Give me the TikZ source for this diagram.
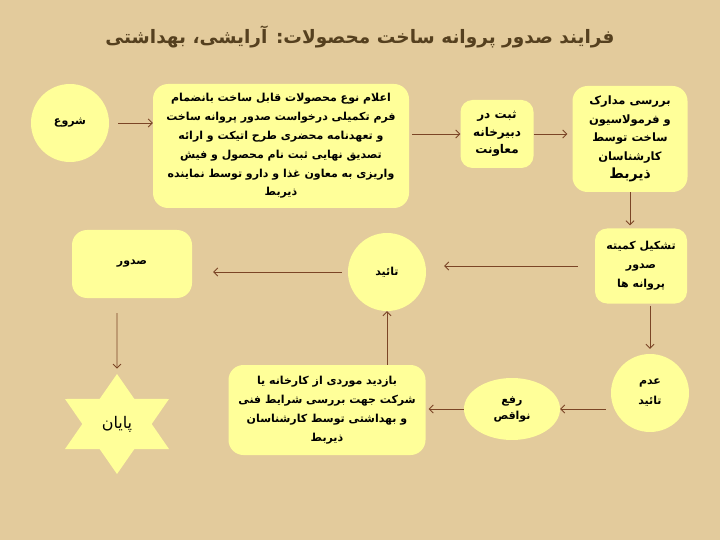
\documentclass[tikz,border=0pt]{standalone}
\usepackage{fontspec}
\usetikzlibrary{shapes.geometric,arrows.meta}
\newfontfamily\fafont[Script=Arabic]{DejaVu Sans}
\TeXXeTstate=1
\newcommand\rl[1]{\beginR#1\endR}
\definecolor{papyrus}{HTML}{E3CB9C}
\definecolor{boxfill}{HTML}{FFFF99}
\definecolor{titlebrown}{HTML}{55401F}
\definecolor{arrowbrown}{HTML}{7B4526}

\begin{document}
\begin{tikzpicture}[x=1pt, y=-1pt,
    box/.style={fill=boxfill, rounded corners=15pt, align=center, inner sep=2pt,
        font=\fafont\bfseries\fontsize{11}{18.8}\selectfont},
    disc/.style={circle, fill=boxfill, align=center, inner sep=0pt, minimum size=78pt,
        font=\fafont\bfseries\fontsize{11}{18}\selectfont},
    flow/.style={draw=arrowbrown, line width=0.8pt,
        every edge/.append style={-{Straight Barb[length=4pt,width=8pt]}}}]
                \fill[papyrus] (0,0) rectangle (720,540);
                \useasboundingbox (0,0) rectangle (720,540);
                \node[font=\fafont\bfseries\fontsize{18.5}{22}\selectfont, text=titlebrown] (title) at (360,37)
                    {\rl{فرایند صدور پروانه ساخت محصولات: آرایشی، بهداشتی}};
                \node[disc] (start) at (70,123) {\rl{شروع}};
                \node[box, minimum width=256, minimum height=124] (form) at (281,146)
                    {\rl{اعلام نوع محصولات قابل ساخت بانضمام}\\
                     \rl{فرم تکمیلی درخواست صدور پروانه ساخت}\\
                     \rl{و تعهدنامه محضری طرح اتیکت و ارائه}\\
                     \rl{تصدیق نهایی ثبت نام محصول و فیش}\\
                     \rl{واریزی به معاون غذا و دارو توسط نماینده}\\
                     \rl{ذیربط}};
                \node[box, rounded corners=12pt, minimum width=73, minimum height=68,
                    font=\fafont\bfseries\fontsize{12}{17.5}\selectfont] (office) at (497,134)
                    {\rl{ثبت در}\\ \rl{دبیرخانه}\\ \rl{معاونت}};
                \node[box, minimum width=115, minimum height=106,
                    font=\fafont\bfseries\fontsize{11.5}{18.5}\selectfont] (review) at (630,139)
                    {\rl{بررسی مدارک}\\ \rl{و فرمولاسیون}\\ \rl{ساخت توسط}\\ \rl{کارشناسان}\\
                     {\fontsize{14}{21}\selectfont\rl{ذیربط}}};
                \node[box, rounded corners=12pt, minimum width=92, minimum height=75,
                    font=\fafont\bfseries\fontsize{11}{19}\selectfont] (committee) at (641,266)
                    {\rl{تشکیل کمیته}\\ \rl{صدور}\\ \rl{پروانه ها}};
                \node[disc, font=\fafont\bfseries\fontsize{11}{20}\selectfont] (reject) at (650,393)
                    {\rl{عدم}\\ \rl{تائید}};
                \node[disc, ellipse, minimum width=96, minimum height=62,
                    font=\fafont\bfseries\fontsize{11}{16}\selectfont] (fix) at (512,409)
                    {\rl{رفع}\\ \rl{نواقص}};
                \node[box, minimum width=197, minimum height=90,
                    font=\fafont\bfseries\fontsize{11}{19}\selectfont] (visit) at (327,410)
                    {\rl{بازدید موردی از کارخانه یا}\\
                     \rl{شرکت جهت بررسی شرایط فنی}\\
                     \rl{و بهداشتی توسط کارشناسان}\\
                     \rl{ذیربط}};
                \node[disc] (approve) at (387,272) {\rl{تائید}};
                \node[box, minimum width=120, minimum height=68] (issue) at (132,264) {\rl{صدور}};
                \node[star, star points=6, star point ratio=1.73, fill=boxfill, inner sep=0pt,
                    minimum size=100, xscale=1.2, transform shape,
                    font=\fafont\fontsize{16}{18}\selectfont] (finish) at (117,424)
                    {\scalebox{0.833}[1]{\rl{پایان}}};
                \draw [flow]
                    (start) edge[shorten <=9pt] (start -| form.west)
                    (form.east |- office) edge[shorten <=3pt] (office)
                    (office) edge[shorten >=5pt] (office -| review.west)
                    (review) edge[shorten >=3pt] (review |- committee.north)
                    (committee.south -| reject) edge[shorten <=2pt, shorten >=5pt] (reject)
                    (committee) edge[shorten <=17pt, shorten >=18pt] (committee -| approve.east)
                    (reject.west |- fix) edge[shorten <=5pt] (fix)
                    (fix) edge[shorten >=3pt] (fix -| visit.east)
                    (visit.north -| approve) edge (approve)
                    (approve) edge[shorten <=6pt, shorten >=21pt] (approve -| issue.east)
                    (issue.south -| finish) edge[shorten <=15pt, shorten >=5pt] (finish);
            \end{tikzpicture}
\end{document}
